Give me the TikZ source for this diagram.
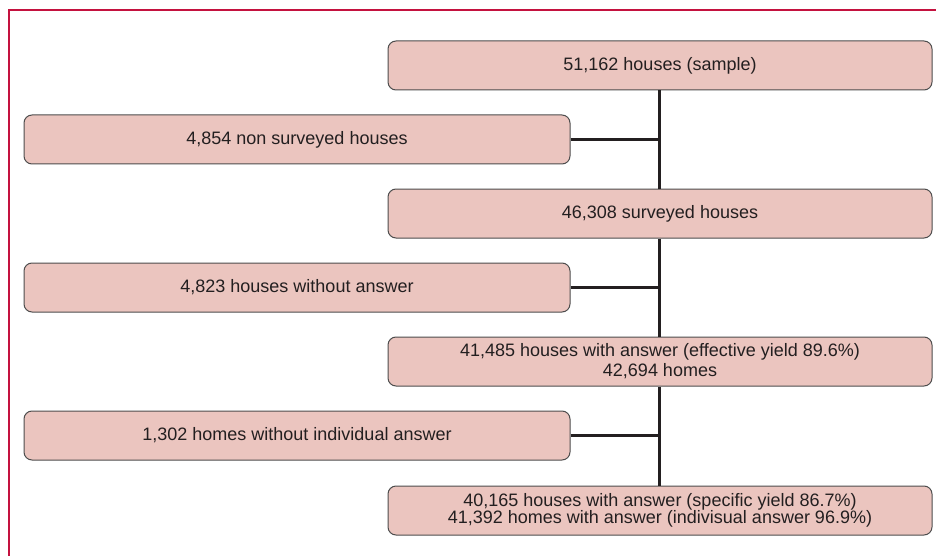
\documentclass[tikz,border=0pt]{standalone}
\usepackage{fontspec}
\setmainfont{Liberation Sans}
\definecolor{frame}{HTML}{C4123F}
\definecolor{boxfill}{HTML}{EBC5BF}
\definecolor{boxline}{HTML}{4D4D4D}
\definecolor{ink}{HTML}{231F20}
\begin{document}
\begin{tikzpicture}[x=1pt,y=-1pt,
  box/.style={draw=boxline, line width=1pt, fill=boxfill, rounded corners=8pt,
    minimum height=49pt, inner sep=0pt, align=center, text=ink,
    font=\fontsize{18}{20}\selectfont},
  rbox/.style={box, minimum width=544pt},
  lbox/.style={box, minimum width=546pt},
  conn/.style={draw=ink, line width=3pt}]
\useasboundingbox (0,0) rectangle (936,556);
\draw[frame, line width=2.6pt] (936,10) -- (9,10) -- (9,556);
\node[rbox] (n1) at (660,65.5) {51,162 houses (sample)};
\node[lbox] (n2) at (297,139.5) {4,854 non surveyed houses};
\node[rbox] (n3) at (660,213.5) {46,308 surveyed houses};
\node[lbox] (n4) at (297,287.5) {4,823 houses without answer};
\node[rbox] (n5) at (660,361.5) {41,485 houses with answer (effective yield 89.6\%)\\42,694 homes};
\node[lbox] (n6) at (297,435.5) {1,302 homes without individual answer};
\node[rbox] (n7) at (660,510.5) {40,165 houses with answer (specific yield 86.7\%)\\[-2.5pt]41,392 homes with answer (indivisual answer 96.9\%)};
\coordinate (spine) at ([xshift=-1pt]n1.south);
\draw[conn] (n1.south -| spine) -- (n3.north -| spine);
\draw[conn] (n3.south -| spine) -- (n5.north -| spine);
\draw[conn] (n5.south -| spine) -- (n7.north -| spine);
\draw[conn] (n2.east) -- (n2.east -| spine);
\draw[conn] (n4.east) -- (n4.east -| spine);
\draw[conn] (n6.east) -- (n6.east -| spine);
\end{tikzpicture}
\end{document}
